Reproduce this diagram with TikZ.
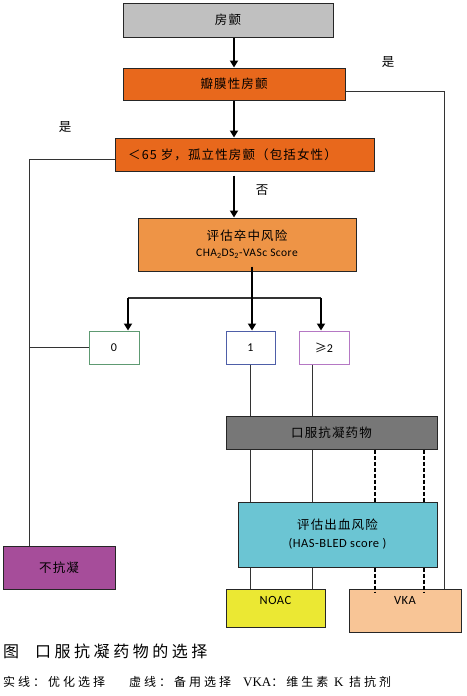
\documentclass[tikz,border=0pt]{standalone}
\usepackage{fontspec}
\setmainfont{Carlito}
\newfontfamily\cjk{Noto Sans CJK SC}
\newfontfamily\cjkb[LetterSpace=9]{Noto Sans CJK SC}
\newfontfamily\cjkcapa[LetterSpace=22]{Noto Sans CJK SC}
\newfontfamily\cjkcapb[LetterSpace=25]{Noto Sans CJK SC}
\newfontfamily\latb[LetterSpace=4]{Carlito}
\usetikzlibrary{arrows.meta}
\definecolor{cgray}{HTML}{C0C0C0}
\definecolor{corange}{HTML}{E8681C}
\definecolor{clorange}{HTML}{EE9446}
\definecolor{cdgray}{HTML}{777777}
\definecolor{ccyan}{HTML}{6BC5D3}
\definecolor{cpurple}{HTML}{A64D9A}
\definecolor{cyellow}{HTML}{EBE833}
\definecolor{cpeach}{HTML}{F8C596}
\definecolor{bgreen}{HTML}{5E9A72}
\definecolor{bblue}{HTML}{4E5EA8}
\definecolor{bpurple}{HTML}{B578C4}
\begin{document}
\begin{tikzpicture}[x=1pt,y=-1pt,
  box/.style={draw=black!85, line width=1pt, inner sep=0pt, align=center,
    font=\cjkb\fontsize{12.5}{15}\selectfont},
  sbox/.style={draw=#1, fill=white, line width=1pt, inner sep=0pt,
    minimum width=50pt, minimum height=33pt, font=\latb\fontsize{12}{14}\selectfont},
  arr/.style={line width=1.8pt, -{Triangle[width=8pt,length=7pt]}},
  conn/.style={line width=0.9pt, black!80},
  dsh/.style={line width=2pt, black, dash pattern=on 4pt off 2pt},
  lbl/.style={font=\cjk\fontsize{12.5}{15}\selectfont, inner sep=0pt}]
\useasboundingbox (0,0) rectangle (466,696);

\node[box, fill=cgray, minimum width=210pt, minimum height=34pt] (a) at (228,20) {房颤};
\node[box, fill=corange, minimum width=222pt, minimum height=32pt] (b) at (234,84) {瓣膜性房颤};
\node[box, fill=corange, minimum width=259pt, minimum height=33pt] (c) at (244.5,154.5) {＜65 岁，孤立性房颤（包括女性）\hspace*{24pt}};
\node[box, fill=clorange, minimum width=218pt, minimum height=53pt] (d) at (247,244.5)
  {评估卒中风险\\[1pt]{\latb\fontsize{11.5}{13}\selectfont CHA\textsubscript{2}DS\textsubscript{2}-VASc Score}};
\node[sbox=bgreen] (e0) at (114,347.5) {0};
\node[sbox=bblue, minimum width=49pt] (e1) at (250.5,347.5) {1};
\node[sbox=bpurple] (e2) at (324,347.5) {{\cjk ≥}2};
\node[box, fill=cdgray, minimum width=211pt, minimum height=33pt] (f) at (331.5,432.5) {口服抗凝药物};
\node[box, fill=ccyan, minimum width=199pt, minimum height=65pt] (g) at (337.5,534.5)
  {评估出血风险\\[3pt]{\latb\fontsize{12.5}{15}\selectfont (HAS-BLED score )}};
\node[box, fill=cpurple, minimum width=112pt, minimum height=43pt] (h) at (59,567.5) {不抗凝};
\node[box, fill=cyellow, minimum width=99pt, minimum height=38pt,
  font=\latb\fontsize{12.5}{15}\selectfont] (i) at (275.5,608) {NOAC\\[1pt]};
\node[box, fill=cpeach, minimum width=112pt, minimum height=43pt,
  font=\latb\fontsize{12.5}{15}\selectfont] (j) at (405,610.5) {VKA\\[6pt]};

% main arrows
\draw[arr] (a.south -| b.north) -- (b.north);
\draw[arr] (b.south) -- (b.south |- c.north);
\draw[arr] ([yshift=-4pt]c.south -| b.south) -- (d.north -| b.south);
\node[lbl] (no) at (262,190) {否};

% split
\coordinate (s0) at ([xshift=14pt]e0.north |- 0,298);
\coordinate (s2) at ([xshift=-3pt]e2.north |- 0,298);
\coordinate (s1) at ([xshift=1.5pt]e1.north |- d.south);
\draw[conn, line width=1.2pt] (s0) -- (s2);
\draw[arr] ([yshift=5pt]s1) -- ([xshift=1.5pt]e1.north);
\draw[arr] (s0) -- (s0 |- e0.north);
\draw[arr] (s2) -- (s2 |- e2.north);

% yes branches
\coordinate (ry) at ([yshift=-7pt]b.east);
\coordinate (rx) at (444,0);
\draw[conn] (ry) -| (rx |- j.north);
\node[lbl] (yes1) at (388,62) {是};
\coordinate (ly) at ([yshift=-4.5pt]c.west);
\coordinate (lx) at (29,0);
\draw[conn] (ly) -| (lx |- h.north);
\draw[conn] (e0.west) -- (lx |- e0.west);
\node[lbl] (yes2) at (65,127) {是};

% through lines
\coordinate (t1) at (250,0);
\coordinate (t2) at (312,0);
\draw[conn] (t1 |- e1.south) -- (t1 |- f.north);
\draw[conn] (t1 |- f.south) -- (t1 |- g.north);
\draw[conn] (t1 |- g.south) -- (t1 |- i.north);
\draw[conn] (t2 |- e2.south) -- (t2 |- f.north);
\draw[conn] (t2 |- f.south) -- (t2 |- g.north);
\draw[conn] (t2 |- g.south) -- (t2 |- i.north);

% dashed
\coordinate (d1) at (375,0);
\coordinate (d2) at (424,0);
\draw[dsh] (d1 |- f.south) -- (d1 |- g.north);
\draw[dsh] (d2 |- f.south) -- (d2 |- g.north);
\draw[dsh] (d1 |- g.south) -- ([yshift=-4pt]d1 |- j.north);
\draw[dsh] (d2 |- g.south) -- ([yshift=-4pt]d2 |- j.north);

% caption
\node[anchor=west, inner sep=0pt, font=\cjkcapa\fontsize{16}{18}\selectfont] (cap1) at (3,651) {图\hspace{16pt}口服抗凝药物的选择};
\node[anchor=west, inner sep=0pt, font=\cjkcapb\fontsize{12}{14}\selectfont] (cap2) at (3,682)
  {实线：优化选择\hspace{24pt}虚线：备用选择\hspace{12pt}{\fontspec{Liberation Serif}\fontsize{13}{14}\selectfont VKA}：维生素 {\fontspec{Liberation Serif}\fontsize{13}{14}\selectfont K} 拮抗剂};
\end{tikzpicture}
\end{document}
